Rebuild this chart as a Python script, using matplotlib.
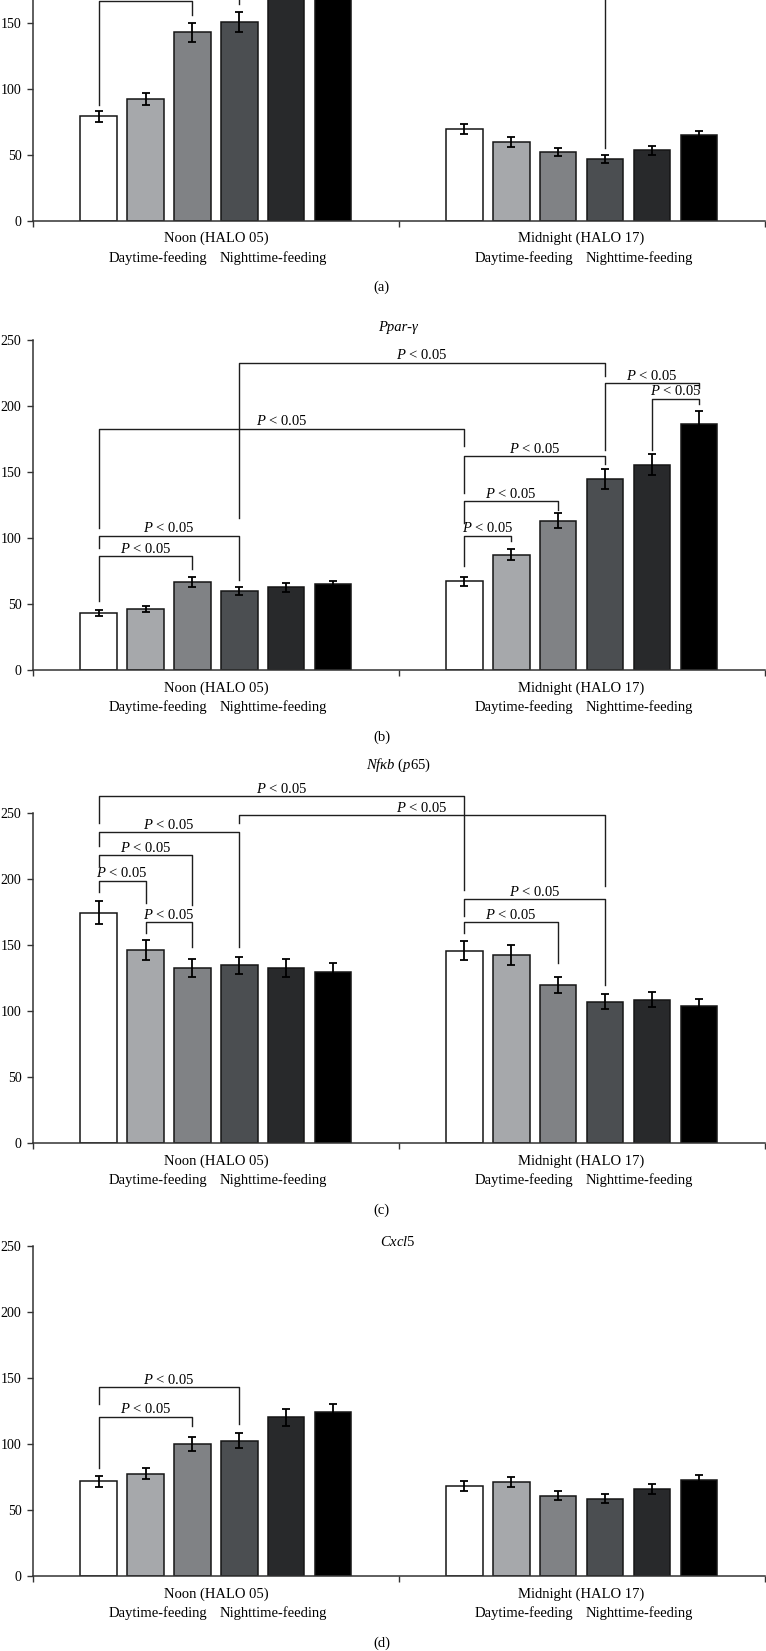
'''
Grouped bar panels with significance brackets (four genes)
'''
import matplotlib
matplotlib.use('Agg')
import matplotlib.pyplot as plt

plt.rcParams['font.family'] = ['Liberation Serif', 'DejaVu Serif']
plt.rcParams['mathtext.fontset'] = 'custom'
plt.rcParams['mathtext.it'] = 'Liberation Serif:italic'
plt.rcParams['mathtext.rm'] = 'Liberation Serif'
plt.rcParams['font.size'] = 10

groups = ['Noon (HALO 05)', 'Midnight (HALO 17)']
sub_labels = ['Daytime-feeding', 'Nighttime-feeding']
bar_colors = ['#ffffff', '#a6a8ab', '#808285', '#4b4e51', '#28292b', '#000000']
yticks = [0, 50, 100, 150, 200, 250]

# panel a (top is cut off in the source)
vals_a = [79, 92, 142.7, 150.5, 185, 205, 69.4, 59.8, 51.8, 46.7, 53.3, 64.6]
errs_a = [4.4, 4.7, 7.3, 7.6, 8, 9, 3.8, 3.7, 3.0, 2.8, 3.3, 3.4]
# (bar from, bar to, height, left leg end, right leg end)
brk_a = [(0, 2, 166.4, 88, 155.8), (3, 9, 200, 164, 55.3)]

# panel b, Ppar-gamma
vals_b = [43.0, 46.3, 66.6, 59.7, 62.5, 64.8, 67.1, 87.3, 113.1, 144.8, 155.4, 186.6]
errs_b = [2.3, 2.3, 3.5, 3.0, 3.4, 3.0, 3.3, 4.3, 5.8, 7.5, 8.0, 9.4]
brk_b = [(0, 2, 86.0, 51.9, 76.4), (0, 3, 101.7, 92.4, 68.3),
         (0, 6, 182.8, 107.6, 169.6), (3, 9, 232.9, 115.2, 222.7),
         (6, 9, 162.0, 134.2, 156.0), (6, 8, 127.8, 111.4, 121.5),
         (6, 7, 101.7, 79.0, 97.4), (9, 11, 217.2, 167.0, 213.9),
         (10, 11, 205.5, 167.0, 201.2)]

# panel c, Nfkb (p65)
vals_c = [174.7, 146.7, 132.8, 134.8, 132.6, 130.0, 146.0, 142.7, 120.0, 107.3, 108.8, 104.0]
errs_c = [8.8, 7.6, 6.7, 6.7, 6.7, 6.3, 7.4, 7.3, 5.9, 5.6, 5.6, 5.3]
brk_c = [(0, 6, 263.1, 242.4, 191.9), (3, 9, 248.7, 242.4, 194.9),
         (0, 3, 235.6, 225.2, 149.0), (0, 2, 218.2, 210.1, 180.5),
         (0, 1, 199.0, 190.6, 182.3), (1, 2, 167.7, 159.5, 149.0),
         (6, 9, 184.8, 172.2, 119.9), (6, 8, 167.7, 159.5, 136.4)]

# panel d, Cxcl5
vals_d = [71.7, 77.5, 100.3, 102.5, 120.2, 124.2, 68.4, 71.2, 60.9, 58.6, 65.9, 72.7]
errs_d = [4.0, 4.3, 5.3, 5.7, 6.2, 6.1, 3.8, 3.9, 3.3, 3.3, 3.5, 3.5]
brk_d = [(0, 3, 143.2, 130.0, 114.9), (0, 2, 120.7, 82.0, 113.6)]

W, H = 766, 1651
SPACING = 0.1282
BAR_W = 0.1
TXT = 10.5


def bar_x(idx):
    g, i = divmod(idx, 6)
    return g + 0.5 + (i - 2.5) * SPACING


def draw_panel(fig, zero_px, vals, errs, brackets, letter, ymax_shown=250):
    # axis placed so that 250 units = 330 px
    ax = fig.add_axes([33 / W, (H - zero_px) / H, 731.5 / W, 330 / H])
    xs = [bar_x(k) for k in range(12)]
    cols = bar_colors * 2
    ax.bar(xs, vals, width=BAR_W, color=cols, edgecolor='#151515', linewidth=1.1, zorder=2)
    ax.errorbar(xs, vals, yerr=errs, fmt='none', ecolor='black', elinewidth=1.3,
                capsize=3, capthick=1.3, zorder=3)

    for a, b, h, lb, rb in brackets:
        x1, x2 = bar_x(a), bar_x(b)
        ax.plot([x1, x1, x2, x2], [lb, h, h, rb], color='#1e1e1e', lw=1.0,
                clip_on=False, zorder=4)
        # labels above the visible part of the page are left out
        if h + 10 < ymax_shown:
            ax.text((x1 + x2) / 2, h + 5.5, '$P$ < 0.05', ha='center', va='center',
                    fontsize=TXT, clip_on=False)

    ax.set_xlim(0, 2)
    ax.set_ylim(0, 250)
    ax.set_yticks([t for t in yticks if t <= ymax_shown])
    ax.set_xticks([0, 1, 2])
    ax.set_xticklabels([])
    ax.tick_params(axis='both', direction='out', length=4.3, width=1.0,
                   color='#333333', labelsize=10, pad=4)
    for s in ['top', 'right']:
        ax.spines[s].set_visible(False)
    for s in ['left', 'bottom']:
        ax.spines[s].set_color('#333333')
        ax.spines[s].set_linewidth(1.1)

    for g, name in enumerate(groups):
        ax.annotate(name, xy=(g + 0.5, 0), xytext=(0, -18), textcoords='offset pixels',
                    ha='center', va='center', fontsize=TXT, annotation_clip=False)
        for k, sub in enumerate(sub_labels):
            ax.annotate(sub, xy=(g + 0.5 + (k - 0.5) * 0.316, 0), xytext=(0, -37),
                        textcoords='offset pixels', ha='center', va='center',
                        fontsize=TXT, annotation_clip=False)
    ax.annotate(letter, xy=(1, 0), xytext=(-17, -67), textcoords='offset pixels',
                ha='center', va='center', fontsize=TXT, annotation_clip=False)
    return ax


fig = plt.figure(figsize=(W / 100, H / 100), dpi=100)

draw_panel(fig, 220.7, vals_a, errs_a, brk_a, '(a)', ymax_shown=160)
draw_panel(fig, 670.0, vals_b, errs_b, brk_b, '(b)')
draw_panel(fig, 1143.3, vals_c, errs_c, brk_c, '(c)', ymax_shown=300)
draw_panel(fig, 1576.0, vals_d, errs_d, brk_d, '(d)')

# gene titles
fig.text(398 / W, 1 - 328 / H, 'Ppar-γ', ha='center', va='center', fontsize=TXT, style='italic')
fig.text(398 / W, 1 - 765 / H, r'$Nf\kappa b$ ($p$65)', ha='center', va='center', fontsize=TXT)
fig.text(398 / W, 1 - 1241.7 / H, '$Cxcl$5', ha='center', va='center', fontsize=TXT)

plt.savefig('out.png', dpi=100)
plt.close()
